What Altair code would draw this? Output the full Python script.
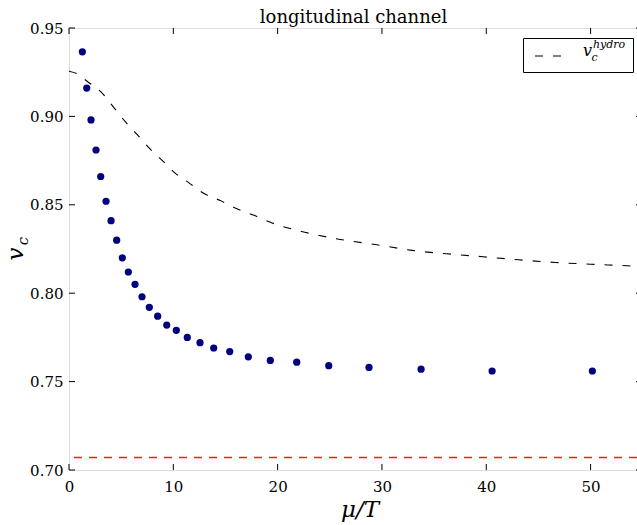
import altair as alt
import pandas as pd

# ---- data ----
mu_T = [1.28, 1.70, 2.11, 2.59, 3.04, 3.55, 4.03, 4.57, 5.11, 5.69, 6.33, 7.00,
        7.70, 8.50, 9.37, 10.29, 11.34, 12.56, 13.87, 15.41, 17.19, 19.30,
        21.83, 24.90, 28.76, 33.75, 40.56, 50.17]
v_c = [0.9365, 0.916, 0.898, 0.881, 0.866, 0.852, 0.841, 0.830, 0.820, 0.812,
       0.805, 0.798, 0.792, 0.787, 0.782, 0.779, 0.775, 0.772, 0.769, 0.767,
       0.764, 0.762, 0.761, 0.759, 0.758, 0.757, 0.756, 0.756]

hydro_mu = [0.0, 0.8, 1.7, 3.2, 4.3, 5.4, 6.5, 7.7, 8.9, 10.2, 11.5, 13.0, 14.5,
            16.1, 17.8, 19.3, 22.6, 26.0, 29.5, 32.9, 36.2, 39.7, 43.1, 46.6,
            50.0, 53.5, 54.45]
hydro_v = [0.9255, 0.9240, 0.9200, 0.9130, 0.9050, 0.8970, 0.8900, 0.8820,
           0.8753, 0.8678, 0.8624, 0.8562, 0.8524, 0.8477, 0.8439, 0.8401,
           0.8345, 0.8304, 0.8274, 0.8242, 0.8223, 0.8206, 0.8189, 0.8174,
           0.8164, 0.8155, 0.8152]

conformal_v = [0.7071]
x_ticks = [0, 10, 20, 30, 40, 50]
y_ticks = [0.70, 0.75, 0.80, 0.85, 0.90, 0.95]

W, H = 568, 442
FONT = "DejaVu Serif"

xs = alt.Scale(domain=[0, 54.45], nice=False, zero=False)
ys = alt.Scale(domain=[0.70, 0.95], nice=False, zero=False)

df_pts = pd.DataFrame({"mu": mu_T, "v": v_c})
df_hydro = pd.DataFrame({"mu": hydro_mu, "v": hydro_v})
df_conf = pd.DataFrame({"v": conformal_v})
df_xt = pd.DataFrame({"mu": x_ticks})
df_yt = pd.DataFrame({"v": y_ticks})

x_axis = alt.Axis(values=x_ticks, title=None, grid=False, domain=False, ticks=False,
                  labelFont=FONT, labelFontSize=15, labelPadding=9, labelColor="black",
                  labelFlush=False, labelOverlap=False, format="d")
y_axis = alt.Axis(values=y_ticks, title=None, grid=False, domain=False, ticks=False,
                  labelFont=FONT, labelFontSize=15, labelPadding=6, labelColor="black",
                  labelFlush=False, labelOverlap=False, format=".2f")

points = alt.Chart(df_pts).mark_circle(size=52, color="#000080", opacity=1).encode(
    x=alt.X("mu:Q", scale=xs, axis=x_axis),
    y=alt.Y("v:Q", scale=ys, axis=y_axis),
)

hydro = alt.Chart(df_hydro).mark_line(color="black", strokeWidth=1.1,
                                      strokeDash=[8, 10], interpolate="monotone").encode(
    x=alt.X("mu:Q", scale=xs),
    y=alt.Y("v:Q", scale=ys),
)

conf = alt.Chart(df_conf).mark_rule(color="#ff1a1a", strokeWidth=1.4,
                                    strokeDash=[8, 7]).encode(
    y=alt.Y("v:Q", scale=ys),
)

tick_style = dict(color="black", strokeWidth=1)
bt = alt.Chart(df_xt).mark_rule(**tick_style).encode(
    x=alt.X("mu:Q", scale=xs), y=alt.value(H), y2=alt.value(H - 6))
tt = alt.Chart(df_xt).mark_rule(**tick_style).encode(
    x=alt.X("mu:Q", scale=xs), y=alt.value(0), y2=alt.value(6))
lt = alt.Chart(df_yt).mark_rule(**tick_style).encode(
    y=alt.Y("v:Q", scale=ys), x=alt.value(0), x2=alt.value(6))
rt = alt.Chart(df_yt).mark_rule(**tick_style).encode(
    y=alt.Y("v:Q", scale=ys), x=alt.value(W - 1), x2=alt.value(W))

title = alt.Chart(pd.DataFrame({"t": ["longitudinal channel"]})).mark_text(
    font=FONT, fontSize=18, color="black", align="center", baseline="alphabetic"
).encode(text="t:N", x=alt.value(284.5), y=alt.value(-5.5))

xtitle = alt.Chart(pd.DataFrame({"t": ["μ/T"]})).mark_text(
    font=FONT, fontSize=23, fontStyle="italic", color="black", align="center",
    baseline="alphabetic"
).encode(text="t:N", x=alt.value(291), y=alt.value(489))

ytitle_v = alt.Chart(pd.DataFrame({"t": ["v"]})).mark_text(
    font=FONT, fontSize=23, fontStyle="italic", color="black", align="center",
    baseline="alphabetic", angle=270
).encode(text="t:N", x=alt.value(-46), y=alt.value(226))
ytitle_c = alt.Chart(pd.DataFrame({"t": ["c"]})).mark_text(
    font=FONT, fontSize=15, fontStyle="italic", color="black", align="center",
    baseline="alphabetic", angle=270
).encode(text="t:N", x=alt.value(-41), y=alt.value(213))

# legend
leg_box = alt.Chart(pd.DataFrame({"a": [0]})).mark_rect(
    fill="white", stroke="black", strokeWidth=1
).encode(x=alt.value(454.5), x2=alt.value(564.5), y=alt.value(10.5), y2=alt.value(44.5))
leg_line = alt.Chart(pd.DataFrame({"a": [0]})).mark_rule(
    color="black", strokeWidth=1.1, strokeDash=[8, 10]
).encode(x=alt.value(466), x2=alt.value(492), y=alt.value(28), y2=alt.value(28))
leg_v = alt.Chart(pd.DataFrame({"t": ["v"]})).mark_text(
    font=FONT, fontSize=16, fontStyle="italic", color="black", align="left",
    baseline="alphabetic"
).encode(text="t:N", x=alt.value(514), y=alt.value(28))
leg_c = alt.Chart(pd.DataFrame({"t": ["c"]})).mark_text(
    font=FONT, fontSize=11, fontStyle="italic", color="black", align="left",
    baseline="alphabetic"
).encode(text="t:N", x=alt.value(522.5), y=alt.value(33))
leg_h = alt.Chart(pd.DataFrame({"t": ["hydro"]})).mark_text(
    font=FONT, fontSize=11, fontStyle="italic", color="black", align="left",
    baseline="alphabetic"
).encode(text="t:N", x=alt.value(524), y=alt.value(20))

chart = alt.layer(
    conf, hydro, points, bt, tt, lt, rt, title, xtitle, ytitle_v, ytitle_c,
    leg_box, leg_line, leg_v, leg_c, leg_h
).properties(
    width=W, height=H,
    padding={"left": 69, "top": 28, "right": 0, "bottom": 55},
    autosize=alt.AutoSizeParams(type="none"),
).configure_view(
    stroke="black", strokeWidth=1
).configure(background="white")

chart.save("out.html", embed_options={"renderer": "svg", "actions": False})
